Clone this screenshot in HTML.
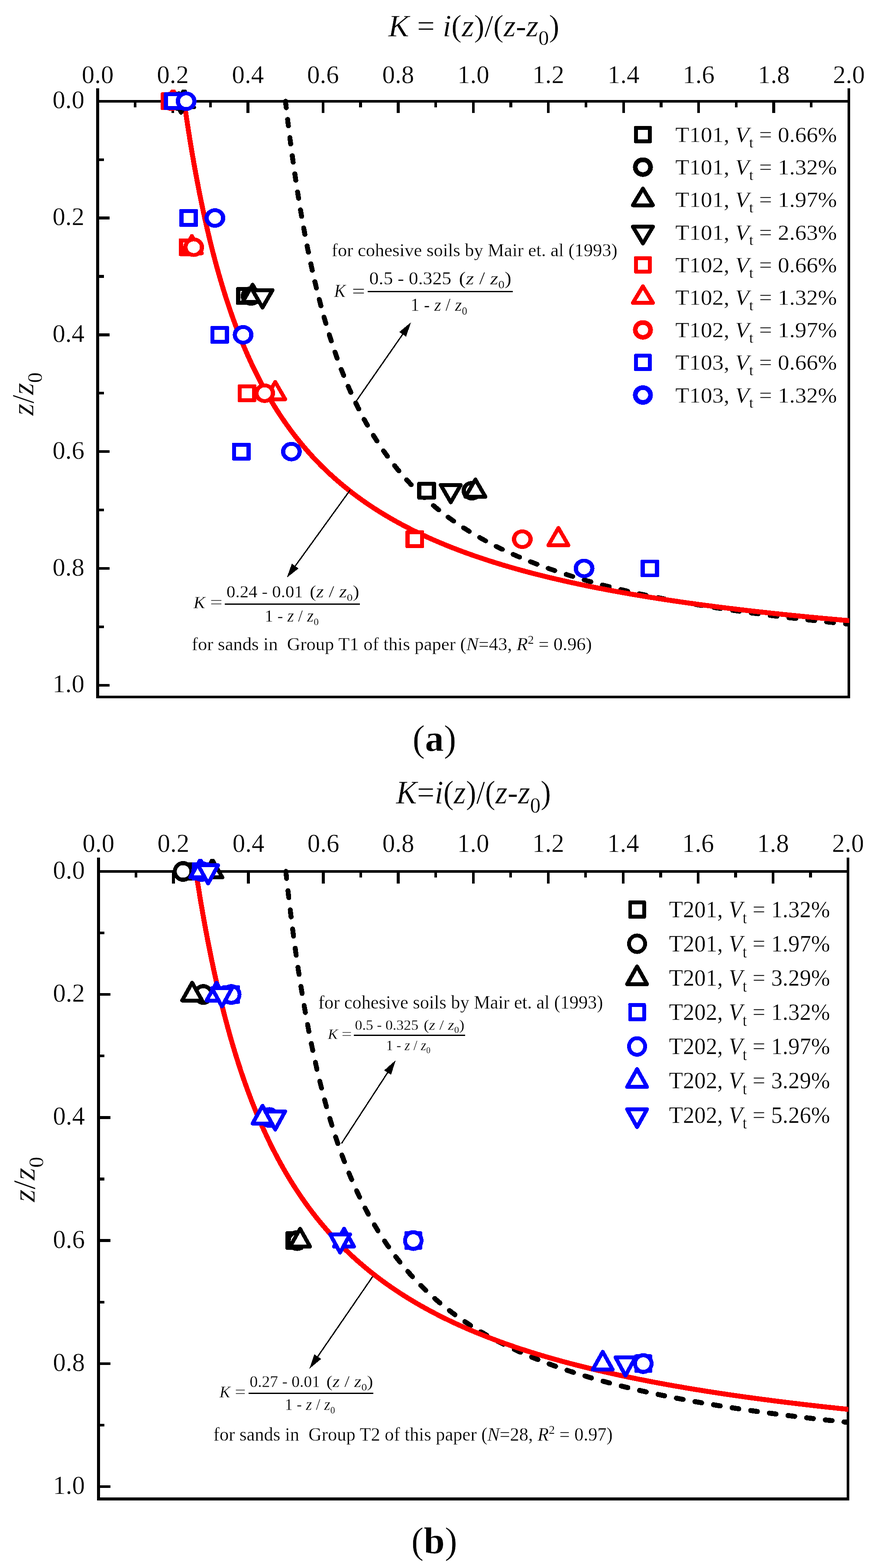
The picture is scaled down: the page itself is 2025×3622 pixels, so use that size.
<!DOCTYPE html>
<html lang="en">
<head>
<meta charset="utf-8">
<title>K versus z/z0</title>
<style>
html,body{margin:0;padding:0;background:#fff;}
body{width:2025px;height:3622px;overflow:hidden;}
svg{display:block;}
text{white-space:pre;stroke:#fff;}
text,tspan{stroke-width:0.0075em;}
</style>
</head>
<body>
<svg width="2025" height="3622" viewBox="0 0 2025 3622">
<rect width="2025" height="3622" fill="#fff"/>
<text transform="translate(896.51 84.2) scale(1.0066 1)" font-family='"Liberation Serif", "DejaVu Serif", serif' font-size="72" fill="#000" xml:space="preserve" ><tspan font-style="italic">K</tspan> = <tspan font-style="italic">i</tspan>(<tspan font-style="italic">z</tspan>)/(<tspan font-style="italic">z</tspan>-<tspan font-style="italic">z</tspan><tspan font-size="48" dy="20">0</tspan><tspan dy="-20">)</tspan></text>
<g font-family='"Liberation Serif", "DejaVu Serif", serif' font-size="59" fill="#000">
<text x="225.6" y="191.5" text-anchor="middle">0.0</text>
<text x="399.04" y="191.5" text-anchor="middle">0.2</text>
<text x="572.48" y="191.5" text-anchor="middle">0.4</text>
<text x="745.92" y="191.5" text-anchor="middle">0.6</text>
<text x="919.36" y="191.5" text-anchor="middle">0.8</text>
<text x="1092.8" y="191.5" text-anchor="middle">1.0</text>
<text x="1266.24" y="191.5" text-anchor="middle">1.2</text>
<text x="1439.68" y="191.5" text-anchor="middle">1.4</text>
<text x="1613.12" y="191.5" text-anchor="middle">1.6</text>
<text x="1786.56" y="191.5" text-anchor="middle">1.8</text>
<text x="1960" y="191.5" text-anchor="middle">2.0</text>
<text x="195" y="250.4" text-anchor="end">0.0</text>
<text x="195" y="520.2" text-anchor="end">0.2</text>
<text x="195" y="790" text-anchor="end">0.4</text>
<text x="195" y="1059.8" text-anchor="end">0.6</text>
<text x="195" y="1329.6" text-anchor="end">0.8</text>
<text x="195" y="1599.4" text-anchor="end">1.0</text>
</g>
<text transform="translate(77 960) rotate(-90) scale(1 1)" font-family='"Liberation Serif", "DejaVu Serif", serif' font-size="71.7" fill="#000"><tspan font-style="italic">z</tspan>/<tspan font-style="italic">z</tspan><tspan font-size="48.04" dy="20.08">0</tspan></text>
<g stroke="#000" stroke-width="6.3" fill="none" shape-rendering="crispEdges">
<path d="M225.6 204 V1610 H1960 V204"/>
<path d="M225.6 233.8 H1960"/>
<path d="M312.32 233.8 v14 M399.04 233.8 v27.5 M485.76 233.8 v14 M572.48 233.8 v27.5 M659.2 233.8 v14 M745.92 233.8 v27.5 M832.64 233.8 v14 M919.36 233.8 v27.5 M1006.08 233.8 v14 M1092.8 233.8 v27.5 M1179.52 233.8 v14 M1266.24 233.8 v27.5 M1352.96 233.8 v14 M1439.68 233.8 v27.5 M1526.4 233.8 v14 M1613.12 233.8 v27.5 M1699.84 233.8 v14 M1786.56 233.8 v27.5 M1873.28 233.8 v14"/>
<path d="M225.6 368.7 h14 M225.6 503.6 h27.5 M225.6 638.5 h14 M225.6 773.4 h27.5 M225.6 908.3 h14 M225.6 1043.2 h27.5 M225.6 1178.1 h14 M225.6 1313 h27.5 M225.6 1447.9 h14 M225.6 1582.8 h27.5"/>
</g>
<clipPath id="clip1"><rect x="205.6" y="184" width="1755.4" height="1426"/></clipPath>
<g clip-path="url(#clip1)"><path transform="translate(225.6 233.8) scale(1.038 1)" d="M417.73 0 L418.05 3.02 L418.38 6.05 L418.72 9.07 L419.05 12.1 L419.38 15.12 L419.72 18.15 L420.06 21.17 L420.4 24.19 L420.74 27.22 L421.08 30.24 L421.42 33.27 L421.77 36.29 L422.12 39.32 L422.46 42.34 L422.81 45.36 L423.17 48.39 L423.52 51.41 L423.87 54.44 L424.23 57.46 L424.59 60.49 L424.95 63.51 L425.31 66.53 L425.68 69.56 L426.04 72.58 L426.41 75.61 L426.78 78.63 L427.15 81.66 L427.52 84.68 L427.89 87.7 L428.27 90.73 L428.65 93.75 L429.03 96.78 L429.41 99.8 L429.79 102.83 L430.18 105.85 L430.56 108.88 L430.95 111.9 L431.34 114.92 L431.73 117.95 L432.13 120.97 L432.53 124 L432.92 127.02 L433.32 130.05 L433.73 133.07 L434.13 136.09 L434.54 139.12 L434.95 142.14 L435.36 145.17 L435.77 148.19 L436.18 151.22 L436.6 154.24 L437.02 157.26 L437.44 160.29 L437.86 163.31 L438.29 166.34 L438.72 169.36 L439.15 172.39 L439.58 175.41 L440.01 178.43 L440.45 181.46 L440.89 184.48 L441.33 187.51 L441.77 190.53 L442.22 193.56 L442.67 196.58 L443.12 199.6 L443.57 202.63 L444.02 205.65 L444.48 208.68 L444.94 211.7 L445.4 214.73 L445.87 217.75 L446.34 220.77 L446.81 223.8 L447.28 226.82 L447.75 229.85 L448.23 232.87 L448.71 235.9 L449.19 238.92 L449.68 241.94 L450.17 244.97 L450.66 247.99 L451.15 251.02 L451.65 254.04 L452.15 257.07 L452.65 260.09 L453.15 263.11 L453.66 266.14 L454.17 269.16 L454.68 272.19 L455.2 275.21 L455.72 278.24 L456.24 281.26 L456.76 284.28 L457.29 287.31 L457.82 290.33 L458.36 293.36 L458.89 296.38 L459.43 299.41 L459.98 302.43 L460.52 305.45 L461.07 308.48 L461.62 311.5 L462.18 314.53 L462.74 317.55 L463.3 320.58 L463.87 323.6 L464.44 326.63 L465.01 329.65 L465.58 332.67 L466.16 335.7 L466.75 338.72 L467.33 341.75 L467.92 344.77 L468.51 347.8 L469.11 350.82 L469.71 353.84 L470.32 356.87 L470.92 359.89 L471.54 362.92 L472.15 365.94 L472.77 368.97 L473.39 371.99 L474.02 375.01 L474.65 378.04 L475.28 381.06 L475.92 384.09 L476.57 387.11 L477.21 390.14 L477.86 393.16 L478.52 396.18 L479.18 399.21 L479.84 402.23 L480.51 405.26 L481.18 408.28 L481.86 411.31 L482.54 414.33 L483.22 417.35 L483.91 420.38 L484.61 423.4 L485.3 426.43 L486.01 429.45 L486.72 432.48 L487.43 435.5 L488.14 438.52 L488.87 441.55 L489.59 444.57 L490.33 447.6 L491.06 450.62 L491.8 453.65 L492.55 456.67 L493.3 459.69 L494.06 462.72 L494.82 465.74 L495.59 468.77 L496.36 471.79 L497.14 474.82 L497.92 477.84 L498.71 480.86 L499.5 483.89 L500.3 486.91 L501.11 489.94 L501.92 492.96 L502.74 495.99 L503.56 499.01 L504.39 502.03 L505.22 505.06 L506.06 508.08 L506.91 511.11 L507.76 514.13 L508.62 517.16 L509.49 520.18 L510.36 523.21 L511.24 526.23 L512.12 529.25 L513.01 532.28 L513.91 535.3 L514.81 538.33 L515.72 541.35 L516.64 544.38 L517.57 547.4 L518.5 550.42 L519.44 553.45 L520.38 556.47 L521.34 559.5 L522.3 562.52 L523.27 565.55 L524.24 568.57 L525.22 571.59 L526.22 574.62 L527.21 577.64 L528.22 580.67 L529.23 583.69 L530.26 586.72 L531.29 589.74 L532.33 592.76 L533.37 595.79 L534.43 598.81 L535.49 601.84 L536.57 604.86 L537.65 607.89 L538.74 610.91 L539.84 613.93 L540.95 616.96 L542.06 619.98 L543.19 623.01 L544.33 626.03 L545.47 629.06 L546.63 632.08 L547.79 635.1 L548.97 638.13 L550.16 641.15 L551.35 644.18 L552.56 647.2 L553.77 650.23 L555 653.25 L556.24 656.27 L557.49 659.3 L558.75 662.32 L560.02 665.35 L561.3 668.37 L562.59 671.4 L563.9 674.42 L565.21 677.44 L566.54 680.47 L567.88 683.49 L569.24 686.52 L570.6 689.54 L571.98 692.57 L573.37 695.59 L574.77 698.61 L576.19 701.64 L577.62 704.66 L579.06 707.69 L580.52 710.71 L581.99 713.74 L583.48 716.76 L584.98 719.79 L586.49 722.81 L588.02 725.83 L589.56 728.86 L591.12 731.88 L592.69 734.91 L594.28 737.93 L595.89 740.96 L597.51 743.98 L599.15 747 L600.8 750.03 L602.47 753.05 L604.16 756.08 L605.87 759.1 L607.59 762.13 L609.33 765.15 L611.09 768.17 L612.87 771.2 L614.66 774.22 L616.48 777.25 L618.31 780.27 L620.17 783.3 L622.04 786.32 L623.93 789.34 L625.85 792.37 L627.78 795.39 L629.74 798.42 L631.72 801.44 L633.72 804.47 L635.74 807.49 L637.79 810.51 L639.86 813.54 L641.95 816.56 L644.07 819.59 L646.21 822.61 L648.37 825.64 L650.56 828.66 L652.78 831.68 L655.02 834.71 L657.29 837.73 L659.58 840.76 L661.91 843.78 L664.26 846.81 L666.64 849.83 L669.05 852.85 L671.48 855.88 L673.95 858.9 L676.45 861.93 L678.98 864.95 L681.54 867.98 L684.14 871 L686.76 874.02 L689.42 877.05 L692.12 880.07 L694.85 883.1 L697.62 886.12 L700.42 889.15 L703.26 892.17 L706.13 895.19 L709.05 898.22 L712.01 901.24 L715 904.27 L718.04 907.29 L721.12 910.32 L724.24 913.34 L727.4 916.36 L730.61 919.39 L733.87 922.41 L737.17 925.44 L740.52 928.46 L743.91 931.49 L747.36 934.51 L750.86 937.54 L754.41 940.56 L758.01 943.58 L761.66 946.61 L765.38 949.63 L769.15 952.66 L772.97 955.68 L776.86 958.71 L780.8 961.73 L784.81 964.75 L788.88 967.78 L793.02 970.8 L797.22 973.83 L801.5 976.85 L805.84 979.88 L810.25 982.9 L814.74 985.92 L819.3 988.95 L823.94 991.97 L828.66 995 L833.46 998.02 L838.35 1001.05 L843.32 1004.07 L848.38 1007.09 L853.52 1010.12 L858.76 1013.14 L864.1 1016.17 L869.53 1019.19 L875.07 1022.22 L880.71 1025.24 L886.45 1028.26 L892.3 1031.29 L898.27 1034.31 L904.35 1037.34 L910.55 1040.36 L916.88 1043.39 L923.33 1046.41 L929.91 1049.43 L936.62 1052.46 L943.47 1055.48 L950.47 1058.51 L957.61 1061.53 L964.91 1064.56 L972.36 1067.58 L979.97 1070.6 L987.75 1073.63 L995.71 1076.65 L1003.84 1079.68 L1012.16 1082.7 L1020.66 1085.73 L1029.37 1088.75 L1038.28 1091.77 L1047.4 1094.8 L1056.74 1097.82 L1066.31 1100.85 L1076.12 1103.87 L1086.17 1106.9 L1096.48 1109.92 L1107.05 1112.94 L1117.89 1115.97 L1129.02 1118.99 L1140.44 1122.02 L1152.18 1125.04 L1164.23 1128.07 L1176.62 1131.09 L1189.36 1134.12 L1202.46 1137.14 L1215.94 1140.16 L1229.82 1143.19 L1244.11 1146.21 L1258.84 1149.24 L1274.01 1152.26 L1289.67 1155.29 L1305.81 1158.31 L1322.48 1161.33 L1339.7 1164.36 L1357.48 1167.38 L1375.87 1170.41 L1394.9 1173.43 L1414.59 1176.46 L1434.98 1179.48 L1456.11 1182.5 L1478.03 1185.53 L1500.77 1188.55 L1524.38 1191.58 L1548.93 1194.6 L1574.45 1197.63 L1601.01 1200.65 L1628.68 1203.67 L1657.52 1206.7 L1687.61 1209.72" fill="none" stroke="#000" stroke-width="11" stroke-linejoin="round" stroke-dasharray="15.4 26.8" stroke-linecap="round" stroke-dashoffset="0" shape-rendering="crispEdges"/></g>
<clipPath id="clip2"><rect x="205.6" y="184" width="1755.4" height="1426"/></clipPath>
<g clip-path="url(#clip2)"><path transform="translate(225.6 233.8) scale(1 1)" d="M199.46 0 L199.88 3 L200.31 6.01 L200.74 9.01 L201.17 12.01 L201.6 15.02 L202.04 18.02 L202.48 21.02 L202.92 24.03 L203.36 27.03 L203.8 30.03 L204.25 33.04 L204.69 36.04 L205.14 39.04 L205.59 42.05 L206.05 45.05 L206.5 48.05 L206.96 51.06 L207.42 54.06 L207.88 57.06 L208.35 60.07 L208.81 63.07 L209.28 66.07 L209.75 69.08 L210.23 72.08 L210.7 75.08 L211.18 78.09 L211.66 81.09 L212.14 84.09 L212.62 87.1 L213.11 90.1 L213.6 93.1 L214.09 96.11 L214.58 99.11 L215.08 102.11 L215.58 105.12 L216.08 108.12 L216.58 111.12 L217.09 114.13 L217.6 117.13 L218.11 120.13 L218.62 123.14 L219.14 126.14 L219.65 129.14 L220.17 132.15 L220.7 135.15 L221.22 138.16 L221.75 141.16 L222.28 144.16 L222.82 147.17 L223.35 150.17 L223.89 153.17 L224.44 156.18 L224.98 159.18 L225.53 162.18 L226.08 165.19 L226.63 168.19 L227.19 171.19 L227.74 174.2 L228.31 177.2 L228.87 180.2 L229.44 183.21 L230.01 186.21 L230.58 189.21 L231.16 192.22 L231.74 195.22 L232.32 198.22 L232.9 201.23 L233.49 204.23 L234.08 207.23 L234.68 210.24 L235.28 213.24 L235.88 216.24 L236.48 219.25 L237.09 222.25 L237.7 225.25 L238.31 228.26 L238.93 231.26 L239.55 234.26 L240.17 237.27 L240.8 240.27 L241.43 243.27 L242.06 246.28 L242.7 249.28 L243.34 252.28 L243.99 255.29 L244.64 258.29 L245.29 261.29 L245.94 264.3 L246.6 267.3 L247.26 270.3 L247.93 273.31 L248.6 276.31 L249.27 279.31 L249.95 282.32 L250.63 285.32 L251.32 288.32 L252.01 291.33 L252.7 294.33 L253.4 297.33 L254.1 300.34 L254.8 303.34 L255.51 306.34 L256.22 309.35 L256.94 312.35 L257.66 315.35 L258.39 318.36 L259.12 321.36 L259.85 324.36 L260.59 327.37 L261.33 330.37 L262.08 333.37 L262.83 336.38 L263.59 339.38 L264.35 342.38 L265.11 345.39 L265.88 348.39 L266.66 351.39 L267.44 354.4 L268.22 357.4 L269.01 360.4 L269.8 363.41 L270.6 366.41 L271.4 369.41 L272.21 372.42 L273.02 375.42 L273.84 378.42 L274.67 381.43 L275.49 384.43 L276.33 387.43 L277.17 390.44 L278.01 393.44 L278.86 396.44 L279.71 399.45 L280.57 402.45 L281.44 405.46 L282.31 408.46 L283.19 411.46 L284.07 414.47 L284.96 417.47 L285.85 420.47 L286.75 423.48 L287.65 426.48 L288.57 429.48 L289.48 432.49 L290.41 435.49 L291.34 438.49 L292.27 441.5 L293.21 444.5 L294.16 447.5 L295.12 450.51 L296.08 453.51 L297.04 456.51 L298.02 459.52 L299 462.52 L299.98 465.52 L300.98 468.53 L301.98 471.53 L302.99 474.53 L304 477.54 L305.02 480.54 L306.05 483.54 L307.09 486.55 L308.13 489.55 L309.18 492.55 L310.24 495.56 L311.3 498.56 L312.37 501.56 L313.45 504.57 L314.54 507.57 L315.64 510.57 L316.74 513.58 L317.85 516.58 L318.97 519.58 L320.1 522.59 L321.24 525.59 L322.38 528.59 L323.53 531.6 L324.69 534.6 L325.86 537.6 L327.04 540.61 L328.23 543.61 L329.42 546.61 L330.63 549.62 L331.84 552.62 L333.07 555.62 L334.3 558.63 L335.54 561.63 L336.79 564.63 L338.05 567.64 L339.33 570.64 L340.61 573.64 L341.9 576.65 L343.2 579.65 L344.51 582.65 L345.83 585.66 L347.16 588.66 L348.5 591.66 L349.86 594.67 L351.22 597.67 L352.6 600.67 L353.98 603.68 L355.38 606.68 L356.79 609.68 L358.21 612.69 L359.64 615.69 L361.08 618.69 L362.54 621.7 L364.01 624.7 L365.48 627.7 L366.98 630.71 L368.48 633.71 L370 636.71 L371.53 639.72 L373.07 642.72 L374.63 645.72 L376.2 648.73 L377.78 651.73 L379.38 654.73 L380.99 657.74 L382.61 660.74 L384.25 663.74 L385.9 666.75 L387.57 669.75 L389.26 672.76 L390.95 675.76 L392.67 678.76 L394.39 681.77 L396.14 684.77 L397.9 687.77 L399.67 690.78 L401.47 693.78 L403.28 696.78 L405.1 699.79 L406.94 702.79 L408.8 705.79 L410.68 708.8 L412.58 711.8 L414.49 714.8 L416.42 717.81 L418.37 720.81 L420.34 723.81 L422.32 726.82 L424.33 729.82 L426.36 732.82 L428.4 735.83 L430.47 738.83 L432.55 741.83 L434.66 744.84 L436.79 747.84 L438.94 750.84 L441.11 753.85 L443.3 756.85 L445.52 759.85 L447.76 762.86 L450.02 765.86 L452.3 768.86 L454.61 771.87 L456.95 774.87 L459.3 777.87 L461.69 780.88 L464.09 783.88 L466.53 786.88 L468.99 789.89 L471.47 792.89 L473.98 795.89 L476.53 798.9 L479.09 801.9 L481.69 804.9 L484.32 807.91 L486.97 810.91 L489.66 813.91 L492.37 816.92 L495.12 819.92 L497.89 822.92 L500.7 825.93 L503.54 828.93 L506.42 831.93 L509.33 834.94 L512.27 837.94 L515.25 840.94 L518.26 843.95 L521.31 846.95 L524.39 849.95 L527.51 852.96 L530.67 855.96 L533.87 858.96 L537.11 861.97 L540.39 864.97 L543.71 867.97 L547.07 870.98 L550.48 873.98 L553.92 876.98 L557.42 879.99 L560.95 882.99 L564.53 885.99 L568.16 889 L571.84 892 L575.57 895 L579.34 898.01 L583.17 901.01 L587.05 904.01 L590.98 907.02 L594.96 910.02 L599 913.02 L603.09 916.03 L607.25 919.03 L611.46 922.03 L615.73 925.04 L620.06 928.04 L624.45 931.04 L628.91 934.05 L633.43 937.05 L638.02 940.06 L642.67 943.06 L647.4 946.06 L652.2 949.07 L657.07 952.07 L662.01 955.07 L667.03 958.08 L672.13 961.08 L677.3 964.08 L682.56 967.09 L687.9 970.09 L693.33 973.09 L698.84 976.1 L704.45 979.1 L710.14 982.1 L715.93 985.11 L721.82 988.11 L727.8 991.11 L733.89 994.12 L740.08 997.12 L746.37 1000.12 L752.78 1003.13 L759.3 1006.13 L765.93 1009.13 L772.68 1012.14 L779.56 1015.14 L786.55 1018.14 L793.68 1021.15 L800.94 1024.15 L808.33 1027.15 L815.86 1030.16 L823.54 1033.16 L831.36 1036.16 L839.34 1039.17 L847.47 1042.17 L855.76 1045.17 L864.22 1048.18 L872.84 1051.18 L881.65 1054.18 L890.63 1057.19 L899.8 1060.19 L909.17 1063.19 L918.73 1066.2 L928.5 1069.2 L938.48 1072.2 L948.68 1075.21 L959.1 1078.21 L969.76 1081.21 L980.67 1084.22 L991.82 1087.22 L1003.23 1090.22 L1014.91 1093.23 L1026.86 1096.23 L1039.11 1099.23 L1051.65 1102.24 L1064.5 1105.24 L1077.67 1108.24 L1091.17 1111.25 L1105.02 1114.25 L1119.23 1117.25 L1133.81 1120.26 L1148.78 1123.26 L1164.15 1126.26 L1179.95 1129.27 L1196.18 1132.27 L1212.87 1135.27 L1230.03 1138.28 L1247.69 1141.28 L1265.87 1144.28 L1284.59 1147.29 L1303.87 1150.29 L1323.75 1153.29 L1344.24 1156.3 L1365.39 1159.3 L1387.21 1162.3 L1409.75 1165.31 L1433.04 1168.31 L1457.12 1171.31 L1482.02 1174.32 L1507.8 1177.32 L1534.49 1180.32 L1562.15 1183.33 L1590.83 1186.33 L1620.59 1189.33 L1651.49 1192.34 L1683.6 1195.34 L1717 1198.34 L1751.74 1201.35" fill="none" stroke="#ff0000" stroke-width="11.5" stroke-linejoin="round" shape-rendering="crispEdges"/></g>
<clipPath id="clip3"><rect x="100" y="207" width="1925" height="1493"/></clipPath>
<g fill="#fff" stroke-width="9" stroke-linejoin="round" shape-rendering="crispEdges" clip-path="url(#clip3)">
<rect x="390.4" y="213.35" width="43.3" height="40.9" rx="3.2" fill="#000" stroke="none"/><rect x="400.3" y="222.25" width="23.5" height="23.1" fill="#fff" stroke="none"/>
<ellipse cx="412.92" cy="233.8" rx="24.05" ry="22.5" fill="#000" stroke="none"/><ellipse cx="412.92" cy="233.8" rx="14.1" ry="13.6" fill="#fff" stroke="none"/>
<path d="M425.06 207.8 L448.16 247.8 L401.96 247.8 Z" stroke="#000"/>
<path d="M418.12 260.5 L441.22 220.4 L395.02 220.4 Z" stroke="#000"/>
<rect x="371.06" y="213.35" width="43.3" height="40.9" rx="3.2" fill="#ff0000" stroke="none"/><rect x="380.96" y="222.25" width="23.5" height="23.1" fill="#fff" stroke="none"/>
<path d="M399.56 207.8 L422.66 247.8 L376.46 247.8 Z" stroke="#ff0000"/>
<ellipse cx="396.26" cy="233.8" rx="24.05" ry="22.5" fill="#ff0000" stroke="none"/><ellipse cx="396.26" cy="233.8" rx="14.1" ry="13.6" fill="#fff" stroke="none"/>
<rect x="378.17" y="213.35" width="43.3" height="40.9" rx="3.2" fill="#0000ff" stroke="none"/><rect x="388.07" y="222.25" width="23.5" height="23.1" fill="#fff" stroke="none"/>
<ellipse cx="429.74" cy="233.8" rx="24.05" ry="22.5" fill="#0000ff" stroke="none"/><ellipse cx="429.74" cy="233.8" rx="14.1" ry="13.6" fill="#fff" stroke="none"/>
<rect x="413.73" y="483.15" width="43.3" height="40.9" rx="3.2" fill="#0000ff" stroke="none"/><rect x="423.63" y="492.05" width="23.5" height="23.1" fill="#fff" stroke="none"/>
<ellipse cx="496.17" cy="503.6" rx="24.05" ry="22.5" fill="#0000ff" stroke="none"/><ellipse cx="496.17" cy="503.6" rx="14.1" ry="13.6" fill="#fff" stroke="none"/>
<rect x="412.69" y="550.6" width="43.3" height="40.9" rx="3.2" fill="#ff0000" stroke="none"/><rect x="422.59" y="559.5" width="23.5" height="23.1" fill="#fff" stroke="none"/>
<path d="M443.01 545.05 L466.11 585.05 L419.91 585.05 Z" stroke="#ff0000"/>
<ellipse cx="447.26" cy="571.05" rx="24.05" ry="22.5" fill="#ff0000" stroke="none"/><ellipse cx="447.26" cy="571.05" rx="14.1" ry="13.6" fill="#fff" stroke="none"/>
<rect x="545.11" y="663.24" width="43.3" height="40.9" rx="3.2" fill="#000" stroke="none"/><rect x="555.01" y="672.14" width="23.5" height="23.1" fill="#fff" stroke="none"/>
<ellipse cx="579.85" cy="683.69" rx="24.05" ry="22.5" fill="#000" stroke="none"/><ellipse cx="579.85" cy="683.69" rx="14.1" ry="13.6" fill="#fff" stroke="none"/>
<path d="M583.32 657.69 L606.42 697.69 L560.22 697.69 Z" stroke="#000"/>
<path d="M606.13 710.39 L629.23 670.29 L583.03 670.29 Z" stroke="#000"/>
<rect x="485.53" y="752.95" width="43.3" height="40.9" rx="3.2" fill="#0000ff" stroke="none"/><rect x="495.43" y="761.85" width="23.5" height="23.1" fill="#fff" stroke="none"/>
<ellipse cx="561.38" cy="773.4" rx="24.05" ry="22.5" fill="#0000ff" stroke="none"/><ellipse cx="561.38" cy="773.4" rx="14.1" ry="13.6" fill="#fff" stroke="none"/>
<rect x="548.58" y="887.85" width="43.3" height="40.9" rx="3.2" fill="#ff0000" stroke="none"/><rect x="558.48" y="896.75" width="23.5" height="23.1" fill="#fff" stroke="none"/>
<path d="M635.53 882.3 L658.63 922.3 L612.43 922.3 Z" stroke="#ff0000"/>
<ellipse cx="611.07" cy="908.3" rx="24.05" ry="22.5" fill="#ff0000" stroke="none"/><ellipse cx="611.07" cy="908.3" rx="14.1" ry="13.6" fill="#fff" stroke="none"/>
<rect x="535.57" y="1022.75" width="43.3" height="40.9" rx="3.2" fill="#0000ff" stroke="none"/><rect x="545.47" y="1031.65" width="23.5" height="23.1" fill="#fff" stroke="none"/>
<ellipse cx="672.82" cy="1043.2" rx="24.05" ry="22.5" fill="#0000ff" stroke="none"/><ellipse cx="672.82" cy="1043.2" rx="14.1" ry="13.6" fill="#fff" stroke="none"/>
<rect x="963.44" y="1113.13" width="43.3" height="40.9" rx="3.2" fill="#000" stroke="none"/><rect x="973.34" y="1122.03" width="23.5" height="23.1" fill="#fff" stroke="none"/>
<ellipse cx="1089.68" cy="1133.58" rx="24.05" ry="22.5" fill="#000" stroke="none"/><ellipse cx="1089.68" cy="1133.58" rx="14.1" ry="13.6" fill="#fff" stroke="none"/>
<path d="M1097.74 1107.58 L1120.84 1147.58 L1074.64 1147.58 Z" stroke="#000"/>
<path d="M1040.77 1160.28 L1063.87 1120.18 L1017.67 1120.18 Z" stroke="#000"/>
<rect x="936.13" y="1225.1" width="43.3" height="40.9" rx="3.2" fill="#ff0000" stroke="none"/><rect x="946.03" y="1234" width="23.5" height="23.1" fill="#fff" stroke="none"/>
<path d="M1289.39 1219.55 L1312.49 1259.55 L1266.29 1259.55 Z" stroke="#ff0000"/>
<ellipse cx="1205.97" cy="1245.55" rx="24.05" ry="22.5" fill="#ff0000" stroke="none"/><ellipse cx="1205.97" cy="1245.55" rx="14.1" ry="13.6" fill="#fff" stroke="none"/>
<rect x="1478.91" y="1292.55" width="43.3" height="40.9" rx="3.2" fill="#0000ff" stroke="none"/><rect x="1488.81" y="1301.45" width="23.5" height="23.1" fill="#fff" stroke="none"/>
<ellipse cx="1348.62" cy="1313" rx="24.05" ry="22.5" fill="#0000ff" stroke="none"/><ellipse cx="1348.62" cy="1313" rx="14.1" ry="13.6" fill="#fff" stroke="none"/>
</g>
<text transform="translate(1559.17 327.9) scale(1.0323 1)" font-family='"Liberation Serif", "DejaVu Serif", serif' font-size="51.3" fill="#000" xml:space="preserve" >T101, <tspan font-style="italic">V</tspan><tspan font-size="34.37" dy="12.82">t</tspan><tspan dy="-12.82"> = 0.66%</tspan></text>
<text transform="translate(1559.17 403.1) scale(1.0323 1)" font-family='"Liberation Serif", "DejaVu Serif", serif' font-size="51.3" fill="#000" xml:space="preserve" >T101, <tspan font-style="italic">V</tspan><tspan font-size="34.37" dy="12.82">t</tspan><tspan dy="-12.82"> = 1.32%</tspan></text>
<text transform="translate(1559.17 478.3) scale(1.0323 1)" font-family='"Liberation Serif", "DejaVu Serif", serif' font-size="51.3" fill="#000" xml:space="preserve" >T101, <tspan font-style="italic">V</tspan><tspan font-size="34.37" dy="12.82">t</tspan><tspan dy="-12.82"> = 1.97%</tspan></text>
<text transform="translate(1559.17 553.5) scale(1.0323 1)" font-family='"Liberation Serif", "DejaVu Serif", serif' font-size="51.3" fill="#000" xml:space="preserve" >T101, <tspan font-style="italic">V</tspan><tspan font-size="34.37" dy="12.82">t</tspan><tspan dy="-12.82"> = 2.63%</tspan></text>
<text transform="translate(1559.17 628.7) scale(1.0323 1)" font-family='"Liberation Serif", "DejaVu Serif", serif' font-size="51.3" fill="#000" xml:space="preserve" >T102, <tspan font-style="italic">V</tspan><tspan font-size="34.37" dy="12.82">t</tspan><tspan dy="-12.82"> = 0.66%</tspan></text>
<text transform="translate(1559.17 703.9) scale(1.0323 1)" font-family='"Liberation Serif", "DejaVu Serif", serif' font-size="51.3" fill="#000" xml:space="preserve" >T102, <tspan font-style="italic">V</tspan><tspan font-size="34.37" dy="12.82">t</tspan><tspan dy="-12.82"> = 1.32%</tspan></text>
<text transform="translate(1559.17 779.1) scale(1.0323 1)" font-family='"Liberation Serif", "DejaVu Serif", serif' font-size="51.3" fill="#000" xml:space="preserve" >T102, <tspan font-style="italic">V</tspan><tspan font-size="34.37" dy="12.82">t</tspan><tspan dy="-12.82"> = 1.97%</tspan></text>
<text transform="translate(1559.17 854.3) scale(1.0323 1)" font-family='"Liberation Serif", "DejaVu Serif", serif' font-size="51.3" fill="#000" xml:space="preserve" >T103, <tspan font-style="italic">V</tspan><tspan font-size="34.37" dy="12.82">t</tspan><tspan dy="-12.82"> = 0.66%</tspan></text>
<text transform="translate(1559.17 929.5) scale(1.0323 1)" font-family='"Liberation Serif", "DejaVu Serif", serif' font-size="51.3" fill="#000" xml:space="preserve" >T103, <tspan font-style="italic">V</tspan><tspan font-size="34.37" dy="12.82">t</tspan><tspan dy="-12.82"> = 1.32%</tspan></text>
<g fill="#fff" stroke-width="9" stroke-linejoin="round" shape-rendering="crispEdges">
<rect x="1463.95" y="290.95" width="41.1" height="39.9" rx="3.2" fill="#000" stroke="none"/><rect x="1472.95" y="299.8" width="23.1" height="22.2" fill="#fff" stroke="none"/>
<ellipse cx="1484.5" cy="386.1" rx="23.1" ry="22.55" fill="#000" stroke="none"/><ellipse cx="1484.5" cy="386.1" rx="12.15" ry="11.65" fill="#fff" stroke="none"/>
<path d="M1484.5 435.7 L1507.7 474.1 L1461.3 474.1 Z" stroke="#000"/>
<path d="M1484.5 562.4 L1507.7 523.7 L1461.3 523.7 Z" stroke="#000"/>
<rect x="1463.95" y="591.75" width="41.1" height="39.9" rx="3.2" fill="#ff0000" stroke="none"/><rect x="1472.95" y="600.6" width="23.1" height="22.2" fill="#fff" stroke="none"/>
<path d="M1484.5 661.3 L1507.7 699.7 L1461.3 699.7 Z" stroke="#ff0000"/>
<ellipse cx="1484.5" cy="762.1" rx="23.1" ry="22.55" fill="#ff0000" stroke="none"/><ellipse cx="1484.5" cy="762.1" rx="12.15" ry="11.65" fill="#fff" stroke="none"/>
<rect x="1463.95" y="817.35" width="41.1" height="39.9" rx="3.2" fill="#0000ff" stroke="none"/><rect x="1472.95" y="826.2" width="23.1" height="22.2" fill="#fff" stroke="none"/>
<ellipse cx="1484.5" cy="912.5" rx="23.1" ry="22.55" fill="#0000ff" stroke="none"/><ellipse cx="1484.5" cy="912.5" rx="12.15" ry="11.65" fill="#fff" stroke="none"/>
</g>
<g shape-rendering="crispEdges"><line x1="822.5" y1="926.6" x2="930.94" y2="770.58" stroke="#000" stroke-width="3"/>
<polygon points="949.2,744.3 937.6,777.64 921.99,766.8" fill="#000"/></g>
<g shape-rendering="crispEdges"><line x1="808.4" y1="1132.1" x2="680.46" y2="1309.17" stroke="#000" stroke-width="3"/>
<polygon points="662.3,1334.3 673.93,1301.99 689.33,1313.12" fill="#000"/></g>
<text transform="translate(765.87 592.1) scale(1.0272 1)" font-family='"Liberation Serif", "DejaVu Serif", serif' font-size="41.3" fill="#000" xml:space="preserve" >for cohesive soils by Mair et. al (1993)</text>
<text transform="translate(771.6 685.9) scale(0.9567 1)" font-family='"Liberation Serif", "DejaVu Serif", serif' font-size="41.7" fill="#000" xml:space="preserve" ><tspan font-style="italic">K</tspan></text>
<text transform="translate(812.4 685.9) scale(1.3 1)" font-family='"Liberation Serif", "DejaVu Serif", serif' font-size="41.7" fill="#000" xml:space="preserve" >=</text>
<text transform="translate(852.6 657.2) scale(1.0497 1)" font-family='"Liberation Serif", "DejaVu Serif", serif' font-size="41.7" fill="#000" xml:space="preserve" >0.5 - 0.325</text>
<text transform="translate(1059.59 657.2) scale(1.1554 1)" font-family='"Liberation Serif", "DejaVu Serif", serif' font-size="41.7" fill="#000" xml:space="preserve" >(<tspan font-style="italic">z</tspan> / <tspan font-style="italic">z</tspan><tspan font-size="25.02" dy="8.34">0</tspan><tspan dy="-8.34">)</tspan></text>
<text transform="translate(947.97 718.3) scale(0.9836 1)" font-family='"Liberation Serif", "DejaVu Serif", serif' font-size="41.7" fill="#000" xml:space="preserve" >1 - <tspan font-style="italic">z</tspan> / <tspan font-style="italic">z</tspan><tspan font-size="25.02" dy="8.34">0</tspan></text>
<rect x="849" y="672" width="335" height="3" fill="#000" shape-rendering="crispEdges"/>
<text transform="translate(446.8 1405.1) scale(1.0357 1)" font-family='"Liberation Serif", "DejaVu Serif", serif' font-size="39.3" fill="#000" xml:space="preserve" ><tspan font-style="italic">K</tspan></text>
<text transform="translate(484.78 1405.1) scale(1.3111 1)" font-family='"Liberation Serif", "DejaVu Serif", serif' font-size="39.3" fill="#000" xml:space="preserve" >=</text>
<text transform="translate(523.06 1380.3) scale(1.0377 1)" font-family='"Liberation Serif", "DejaVu Serif", serif' font-size="39.3" fill="#000" xml:space="preserve" >0.24 - 0.01</text>
<text transform="translate(714.88 1380.3) scale(1.1579 1)" font-family='"Liberation Serif", "DejaVu Serif", serif' font-size="39.3" fill="#000" xml:space="preserve" >(<tspan font-style="italic">z</tspan> / <tspan font-style="italic">z</tspan><tspan font-size="23.58" dy="7.86">0</tspan><tspan dy="-7.86">)</tspan></text>
<text transform="translate(611.32 1436.3) scale(0.9942 1)" font-family='"Liberation Serif", "DejaVu Serif", serif' font-size="39.3" fill="#000" xml:space="preserve" >1 - <tspan font-style="italic">z</tspan> / <tspan font-style="italic">z</tspan><tspan font-size="23.58" dy="7.86">0</tspan></text>
<rect x="519" y="1394" width="312" height="3" fill="#000" shape-rendering="crispEdges"/>
<text transform="translate(442.87 1502.1) scale(1.0306 1)" font-family='"Liberation Serif", "DejaVu Serif", serif' font-size="41.3" fill="#000" xml:space="preserve" >for sands in  Group T1 of this paper (<tspan font-style="italic">N</tspan>=43, <tspan font-style="italic">R</tspan><tspan font-size="27" dy="-15">2</tspan><tspan dy="15"> = 0.96)</tspan></text>
<text x="1003" y="1734.5" text-anchor="middle" font-family='"Liberation Serif", "DejaVu Serif", serif' font-size="87" fill="#000">(<tspan font-weight="bold">a</tspan>)</text>
<text transform="translate(914.6 1856) scale(1.0028 1.05)" font-family='"Liberation Serif", "DejaVu Serif", serif' font-size="72" fill="#000" xml:space="preserve" ><tspan font-style="italic">K</tspan>=<tspan font-style="italic">i</tspan>(<tspan font-style="italic">z</tspan>)/(<tspan font-style="italic">z</tspan>-<tspan font-style="italic">z</tspan><tspan font-size="48" dy="20">0</tspan><tspan dy="-20">)</tspan></text>
<g font-family='"Liberation Serif", "DejaVu Serif", serif' font-size="59" fill="#000">
<text transform="translate(227.4 1968.3) scale(1 1.05)" text-anchor="middle">0.0</text>
<text transform="translate(400.46 1968.3) scale(1 1.05)" text-anchor="middle">0.2</text>
<text transform="translate(573.52 1968.3) scale(1 1.05)" text-anchor="middle">0.4</text>
<text transform="translate(746.58 1968.3) scale(1 1.05)" text-anchor="middle">0.6</text>
<text transform="translate(919.64 1968.3) scale(1 1.05)" text-anchor="middle">0.8</text>
<text transform="translate(1092.7 1968.3) scale(1 1.05)" text-anchor="middle">1.0</text>
<text transform="translate(1265.76 1968.3) scale(1 1.05)" text-anchor="middle">1.2</text>
<text transform="translate(1438.82 1968.3) scale(1 1.05)" text-anchor="middle">1.4</text>
<text transform="translate(1611.88 1968.3) scale(1 1.05)" text-anchor="middle">1.6</text>
<text transform="translate(1784.94 1968.3) scale(1 1.05)" text-anchor="middle">1.8</text>
<text transform="translate(1958 1968.3) scale(1 1.05)" text-anchor="middle">2.0</text>
<text transform="translate(196 2030) scale(1 1.05)" text-anchor="end">0.0</text>
<text transform="translate(196 2314.2) scale(1 1.05)" text-anchor="end">0.2</text>
<text transform="translate(196 2598.4) scale(1 1.05)" text-anchor="end">0.4</text>
<text transform="translate(196 2882.6) scale(1 1.05)" text-anchor="end">0.6</text>
<text transform="translate(196 3166.8) scale(1 1.05)" text-anchor="end">0.8</text>
<text transform="translate(196 3451) scale(1 1.05)" text-anchor="end">1.0</text>
</g>
<text transform="translate(80 2776.7) rotate(-90) scale(1.05 1)" font-family='"Liberation Serif", "DejaVu Serif", serif' font-size="71.7" fill="#000"><tspan font-style="italic">z</tspan>/<tspan font-style="italic">z</tspan><tspan font-size="48.04" dy="20.08">0</tspan></text>
<g stroke="#000" stroke-width="6.3" fill="none" shape-rendering="crispEdges">
<path d="M227.4 1981 V3462.4 H1958 V1981"/>
<path d="M227.4 2013 H1958"/>
<path d="M313.93 2013 v14 M400.46 2013 v27.5 M486.99 2013 v14 M573.52 2013 v27.5 M660.05 2013 v14 M746.58 2013 v27.5 M833.11 2013 v14 M919.64 2013 v27.5 M1006.17 2013 v14 M1092.7 2013 v27.5 M1179.23 2013 v14 M1265.76 2013 v27.5 M1352.29 2013 v14 M1438.82 2013 v27.5 M1525.35 2013 v14 M1611.88 2013 v27.5 M1698.41 2013 v14 M1784.94 2013 v27.5 M1871.47 2013 v14"/>
<path d="M227.4 2155.1 h14 M227.4 2297.2 h27.5 M227.4 2439.3 h14 M227.4 2581.4 h27.5 M227.4 2723.5 h14 M227.4 2865.6 h27.5 M227.4 3007.7 h14 M227.4 3149.8 h27.5 M227.4 3291.9 h14 M227.4 3434 h27.5"/>
</g>
<clipPath id="clip4"><rect x="207.4" y="1961" width="1751.6" height="1501.4"/></clipPath>
<g clip-path="url(#clip4)"><path transform="translate(227.4 2013) scale(1.029 1.059)" d="M420.46 0 L420.79 3.01 L421.12 6.02 L421.45 9.02 L421.79 12.03 L422.13 15.04 L422.46 18.05 L422.8 21.06 L423.14 24.07 L423.49 27.07 L423.83 30.08 L424.18 33.09 L424.53 36.1 L424.87 39.11 L425.23 42.12 L425.58 45.12 L425.93 48.13 L426.29 51.14 L426.64 54.15 L427 57.16 L427.36 60.16 L427.73 63.17 L428.09 66.18 L428.46 69.19 L428.82 72.2 L429.19 75.21 L429.57 78.21 L429.94 81.22 L430.31 84.23 L430.69 87.24 L431.07 90.25 L431.45 93.26 L431.83 96.26 L432.21 99.27 L432.6 102.28 L432.99 105.29 L433.38 108.3 L433.77 111.3 L434.16 114.31 L434.56 117.32 L434.95 120.33 L435.35 123.34 L435.75 126.35 L436.16 129.35 L436.56 132.36 L436.97 135.37 L437.38 138.38 L437.79 141.39 L438.2 144.4 L438.62 147.4 L439.04 150.41 L439.45 153.42 L439.88 156.43 L440.3 159.44 L440.73 162.44 L441.15 165.45 L441.58 168.46 L442.02 171.47 L442.45 174.48 L442.89 177.49 L443.33 180.49 L443.77 183.5 L444.21 186.51 L444.66 189.52 L445.11 192.53 L445.56 195.54 L446.01 198.54 L446.47 201.55 L446.93 204.56 L447.39 207.57 L447.85 210.58 L448.32 213.58 L448.78 216.59 L449.25 219.6 L449.73 222.61 L450.2 225.62 L450.68 228.63 L451.16 231.63 L451.64 234.64 L452.13 237.65 L452.62 240.66 L453.11 243.67 L453.6 246.68 L454.1 249.68 L454.6 252.69 L455.1 255.7 L455.61 258.71 L456.11 261.72 L456.62 264.72 L457.14 267.73 L457.65 270.74 L458.17 273.75 L458.7 276.76 L459.22 279.77 L459.75 282.77 L460.28 285.78 L460.81 288.79 L461.35 291.8 L461.89 294.81 L462.44 297.82 L462.98 300.82 L463.53 303.83 L464.08 306.84 L464.64 309.85 L465.2 312.86 L465.76 315.86 L466.33 318.87 L466.9 321.88 L467.47 324.89 L468.05 327.9 L468.63 330.91 L469.21 333.91 L469.8 336.92 L470.39 339.93 L470.98 342.94 L471.58 345.95 L472.18 348.96 L472.78 351.96 L473.39 354.97 L474 357.98 L474.62 360.99 L475.24 364 L475.86 367 L476.49 370.01 L477.12 373.02 L477.75 376.03 L478.39 379.04 L479.03 382.05 L479.68 385.05 L480.33 388.06 L480.99 391.07 L481.65 394.08 L482.31 397.09 L482.98 400.1 L483.65 403.1 L484.33 406.11 L485.01 409.12 L485.69 412.13 L486.38 415.14 L487.07 418.14 L487.77 421.15 L488.48 424.16 L489.18 427.17 L489.9 430.18 L490.61 433.19 L491.34 436.19 L492.06 439.2 L492.79 442.21 L493.53 445.22 L494.27 448.23 L495.02 451.24 L495.77 454.24 L496.53 457.25 L497.29 460.26 L498.05 463.27 L498.83 466.28 L499.6 469.28 L500.39 472.29 L501.18 475.3 L501.97 478.31 L502.77 481.32 L503.57 484.33 L504.38 487.33 L505.2 490.34 L506.02 493.35 L506.85 496.36 L507.69 499.37 L508.53 502.38 L509.37 505.38 L510.22 508.39 L511.08 511.4 L511.95 514.41 L512.82 517.42 L513.69 520.42 L514.58 523.43 L515.47 526.44 L516.36 529.45 L517.27 532.46 L518.18 535.47 L519.1 538.47 L520.02 541.48 L520.95 544.49 L521.89 547.5 L522.83 550.51 L523.78 553.52 L524.74 556.52 L525.71 559.53 L526.69 562.54 L527.67 565.55 L528.66 568.56 L529.65 571.56 L530.66 574.57 L531.67 577.58 L532.69 580.59 L533.72 583.6 L534.76 586.61 L535.81 589.61 L536.86 592.62 L537.92 595.63 L538.99 598.64 L540.07 601.65 L541.16 604.66 L542.26 607.66 L543.37 610.67 L544.48 613.68 L545.61 616.69 L546.74 619.7 L547.89 622.71 L549.04 625.71 L550.2 628.72 L551.37 631.73 L552.56 634.74 L553.75 637.75 L554.95 640.75 L556.17 643.76 L557.39 646.77 L558.63 649.78 L559.87 652.79 L561.13 655.8 L562.4 658.8 L563.68 661.81 L564.97 664.82 L566.27 667.83 L567.58 670.84 L568.91 673.85 L570.24 676.85 L571.59 679.86 L572.96 682.87 L574.33 685.88 L575.72 688.89 L577.12 691.89 L578.53 694.9 L579.96 697.91 L581.39 700.92 L582.85 703.93 L584.31 706.94 L585.79 709.94 L587.29 712.95 L588.8 715.96 L590.32 718.97 L591.86 721.98 L593.41 724.99 L594.98 727.99 L596.57 731 L598.17 734.01 L599.78 737.02 L601.42 740.03 L603.06 743.03 L604.73 746.04 L606.41 749.05 L608.11 752.06 L609.83 755.07 L611.56 758.08 L613.31 761.08 L615.08 764.09 L616.87 767.1 L618.68 770.11 L620.51 773.12 L622.35 776.13 L624.22 779.13 L626.11 782.14 L628.01 785.15 L629.94 788.16 L631.89 791.17 L633.86 794.17 L635.85 797.18 L637.86 800.19 L639.9 803.2 L641.96 806.21 L644.04 809.22 L646.15 812.22 L648.28 815.23 L650.43 818.24 L652.61 821.25 L654.81 824.26 L657.04 827.27 L659.3 830.27 L661.58 833.28 L663.9 836.29 L666.23 839.3 L668.6 842.31 L670.99 845.31 L673.42 848.32 L675.87 851.33 L678.36 854.34 L680.87 857.35 L683.42 860.36 L686 863.36 L688.61 866.37 L691.25 869.38 L693.93 872.39 L696.64 875.4 L699.39 878.41 L702.18 881.41 L705 884.42 L707.85 887.43 L710.75 890.44 L713.69 893.45 L716.66 896.45 L719.67 899.46 L722.73 902.47 L725.83 905.48 L728.97 908.49 L732.16 911.5 L735.39 914.5 L738.66 917.51 L741.99 920.52 L745.36 923.53 L748.78 926.54 L752.24 929.55 L755.76 932.55 L759.34 935.56 L762.96 938.57 L766.64 941.58 L770.38 944.59 L774.17 947.59 L778.02 950.6 L781.93 953.61 L785.91 956.62 L789.94 959.63 L794.04 962.64 L798.2 965.64 L802.44 968.65 L806.74 971.66 L811.11 974.67 L815.55 977.68 L820.07 980.69 L824.66 983.69 L829.33 986.7 L834.08 989.71 L838.91 992.72 L843.83 995.73 L848.83 998.73 L853.92 1001.74 L859.1 1004.75 L864.38 1007.76 L869.75 1010.77 L875.22 1013.78 L880.79 1016.78 L886.46 1019.79 L892.24 1022.8 L898.14 1025.81 L904.14 1028.82 L910.26 1031.83 L916.5 1034.83 L922.87 1037.84 L929.36 1040.85 L935.99 1043.86 L942.74 1046.87 L949.64 1049.87 L956.68 1052.88 L963.87 1055.89 L971.22 1058.9 L978.72 1061.91 L986.38 1064.92 L994.21 1067.92 L1002.22 1070.93 L1010.4 1073.94 L1018.77 1076.95 L1027.34 1079.96 L1036.1 1082.97 L1045.07 1085.97 L1054.25 1088.98 L1063.65 1091.99 L1073.28 1095 L1083.15 1098.01 L1093.27 1101.01 L1103.64 1104.02 L1114.28 1107.03 L1125.2 1110.04 L1136.4 1113.05 L1147.9 1116.06 L1159.71 1119.06 L1171.84 1122.07 L1184.31 1125.08 L1197.13 1128.09 L1210.32 1131.1 L1223.89 1134.11 L1237.86 1137.11 L1252.24 1140.12 L1267.07 1143.13 L1282.34 1146.14 L1298.1 1149.15 L1314.35 1152.15 L1331.13 1155.16 L1348.45 1158.17 L1366.36 1161.18 L1384.87 1164.19 L1404.01 1167.2 L1423.83 1170.2 L1444.36 1173.21 L1465.63 1176.22 L1487.69 1179.23 L1510.58 1182.24 L1534.35 1185.25 L1559.05 1188.25 L1584.74 1191.26 L1611.47 1194.27 L1639.32 1197.28 L1668.35 1200.29 L1698.65 1203.29" fill="none" stroke="#000" stroke-width="11" stroke-linejoin="round" stroke-dasharray="15.4 26.8" stroke-linecap="round" stroke-dashoffset="0" shape-rendering="crispEdges"/></g>
<clipPath id="clip5"><rect x="207.4" y="1961" width="1751.6" height="1501.4"/></clipPath>
<g clip-path="url(#clip5)"><path transform="translate(227.4 2013) scale(1 1)" d="M224.98 0 L225.45 3.11 L225.93 6.22 L226.41 9.33 L226.89 12.44 L227.37 15.55 L227.86 18.66 L228.34 21.77 L228.83 24.89 L229.33 28 L229.82 31.11 L230.32 34.22 L230.81 37.33 L231.31 40.44 L231.82 43.55 L232.32 46.66 L232.83 49.77 L233.34 52.88 L233.85 55.99 L234.37 59.1 L234.88 62.21 L235.4 65.32 L235.92 68.43 L236.45 71.54 L236.97 74.66 L237.5 77.77 L238.03 80.88 L238.57 83.99 L239.1 87.1 L239.64 90.21 L240.18 93.32 L240.73 96.43 L241.27 99.54 L241.82 102.65 L242.37 105.76 L242.93 108.87 L243.48 111.98 L244.04 115.09 L244.61 118.2 L245.17 121.32 L245.74 124.43 L246.31 127.54 L246.88 130.65 L247.46 133.76 L248.03 136.87 L248.62 139.98 L249.2 143.09 L249.79 146.2 L250.38 149.31 L250.97 152.42 L251.57 155.53 L252.16 158.64 L252.77 161.75 L253.37 164.86 L253.98 167.97 L254.59 171.09 L255.2 174.2 L255.82 177.31 L256.44 180.42 L257.06 183.53 L257.69 186.64 L258.32 189.75 L258.95 192.86 L259.58 195.97 L260.22 199.08 L260.86 202.19 L261.51 205.3 L262.16 208.41 L262.81 211.52 L263.47 214.63 L264.12 217.75 L264.79 220.86 L265.45 223.97 L266.12 227.08 L266.79 230.19 L267.47 233.3 L268.15 236.41 L268.83 239.52 L269.52 242.63 L270.21 245.74 L270.9 248.85 L271.6 251.96 L272.3 255.07 L273.01 258.18 L273.72 261.29 L274.43 264.4 L275.15 267.52 L275.87 270.63 L276.59 273.74 L277.32 276.85 L278.05 279.96 L278.79 283.07 L279.53 286.18 L280.28 289.29 L281.02 292.4 L281.78 295.51 L282.53 298.62 L283.3 301.73 L284.06 304.84 L284.83 307.95 L285.6 311.06 L286.38 314.18 L287.17 317.29 L287.95 320.4 L288.74 323.51 L289.54 326.62 L290.34 329.73 L291.15 332.84 L291.96 335.95 L292.77 339.06 L293.59 342.17 L294.41 345.28 L295.24 348.39 L296.08 351.5 L296.91 354.61 L297.76 357.72 L298.61 360.84 L299.46 363.95 L300.32 367.06 L301.18 370.17 L302.05 373.28 L302.92 376.39 L303.8 379.5 L304.69 382.61 L305.58 385.72 L306.47 388.83 L307.37 391.94 L308.28 395.05 L309.19 398.16 L310.1 401.27 L311.03 404.38 L311.95 407.49 L312.89 410.61 L313.83 413.72 L314.77 416.83 L315.72 419.94 L316.68 423.05 L317.64 426.16 L318.61 429.27 L319.59 432.38 L320.57 435.49 L321.56 438.6 L322.55 441.71 L323.55 444.82 L324.56 447.93 L325.57 451.04 L326.59 454.15 L327.62 457.27 L328.65 460.38 L329.69 463.49 L330.74 466.6 L331.79 469.71 L332.85 472.82 L333.92 475.93 L334.99 479.04 L336.07 482.15 L337.16 485.26 L338.26 488.37 L339.36 491.48 L340.47 494.59 L341.59 497.7 L342.71 500.81 L343.85 503.92 L344.99 507.04 L346.14 510.15 L347.29 513.26 L348.46 516.37 L349.63 519.48 L350.81 522.59 L352 525.7 L353.2 528.81 L354.4 531.92 L355.62 535.03 L356.84 538.14 L358.07 541.25 L359.31 544.36 L360.56 547.47 L361.82 550.58 L363.08 553.7 L364.36 556.81 L365.64 559.92 L366.94 563.03 L368.24 566.14 L369.55 569.25 L370.88 572.36 L372.21 575.47 L373.55 578.58 L374.9 581.69 L376.27 584.8 L377.64 587.91 L379.02 591.02 L380.42 594.13 L381.82 597.24 L383.23 600.35 L384.66 603.47 L386.1 606.58 L387.54 609.69 L389 612.8 L390.47 615.91 L391.95 619.02 L393.44 622.13 L394.95 625.24 L396.46 628.35 L397.99 631.46 L399.53 634.57 L401.08 637.68 L402.65 640.79 L404.23 643.9 L405.82 647.01 L407.42 650.13 L409.03 653.24 L410.66 656.35 L412.3 659.46 L413.96 662.57 L415.63 665.68 L417.31 668.79 L419.01 671.9 L420.72 675.01 L422.45 678.12 L424.19 681.23 L425.94 684.34 L427.71 687.45 L429.49 690.56 L431.29 693.67 L433.11 696.78 L434.94 699.9 L436.79 703.01 L438.65 706.12 L440.53 709.23 L442.43 712.34 L444.34 715.45 L446.27 718.56 L448.21 721.67 L450.18 724.78 L452.16 727.89 L454.16 731 L456.18 734.11 L458.21 737.22 L460.27 740.33 L462.34 743.44 L464.43 746.56 L466.54 749.67 L468.68 752.78 L470.83 755.89 L473 759 L475.19 762.11 L477.4 765.22 L479.64 768.33 L481.89 771.44 L484.17 774.55 L486.47 777.66 L488.79 780.77 L491.14 783.88 L493.5 786.99 L495.89 790.1 L498.31 793.21 L500.75 796.33 L503.21 799.44 L505.7 802.55 L508.21 805.66 L510.75 808.77 L513.31 811.88 L515.9 814.99 L518.52 818.1 L521.16 821.21 L523.83 824.32 L526.53 827.43 L529.26 830.54 L532.02 833.65 L534.81 836.76 L537.62 839.87 L540.47 842.99 L543.35 846.1 L546.26 849.21 L549.2 852.32 L552.17 855.43 L555.18 858.54 L558.21 861.65 L561.29 864.76 L564.4 867.87 L567.54 870.98 L570.72 874.09 L573.93 877.2 L577.18 880.31 L580.47 883.42 L583.8 886.53 L587.17 889.64 L590.58 892.76 L594.02 895.87 L597.51 898.98 L601.04 902.09 L604.61 905.2 L608.23 908.31 L611.89 911.42 L615.6 914.53 L619.35 917.64 L623.14 920.75 L626.99 923.86 L630.88 926.97 L634.82 930.08 L638.82 933.19 L642.86 936.3 L646.96 939.42 L651.11 942.53 L655.31 945.64 L659.57 948.75 L663.89 951.86 L668.26 954.97 L672.69 958.08 L677.19 961.19 L681.74 964.3 L686.35 967.41 L691.03 970.52 L695.78 973.63 L700.59 976.74 L705.47 979.85 L710.42 982.96 L715.44 986.08 L720.53 989.19 L725.69 992.3 L730.93 995.41 L736.25 998.52 L741.65 1001.63 L747.13 1004.74 L752.69 1007.85 L758.33 1010.96 L764.06 1014.07 L769.88 1017.18 L775.79 1020.29 L781.79 1023.4 L787.89 1026.51 L794.08 1029.62 L800.37 1032.73 L806.77 1035.85 L813.27 1038.96 L819.87 1042.07 L826.59 1045.18 L833.41 1048.29 L840.35 1051.4 L847.41 1054.51 L854.59 1057.62 L861.9 1060.73 L869.33 1063.84 L876.89 1066.95 L884.59 1070.06 L892.42 1073.17 L900.39 1076.28 L908.51 1079.39 L916.78 1082.51 L925.21 1085.62 L933.79 1088.73 L942.53 1091.84 L951.44 1094.95 L960.52 1098.06 L969.78 1101.17 L979.22 1104.28 L988.85 1107.39 L998.66 1110.5 L1008.68 1113.61 L1018.91 1116.72 L1029.34 1119.83 L1039.99 1122.94 L1050.87 1126.05 L1061.98 1129.16 L1073.33 1132.28 L1084.92 1135.39 L1096.77 1138.5 L1108.89 1141.61 L1121.28 1144.72 L1133.95 1147.83 L1146.91 1150.94 L1160.17 1154.05 L1173.75 1157.16 L1187.65 1160.27 L1201.88 1163.38 L1216.47 1166.49 L1231.41 1169.6 L1246.73 1172.71 L1262.44 1175.82 L1278.55 1178.94 L1295.08 1182.05 L1312.05 1185.16 L1329.47 1188.27 L1347.36 1191.38 L1365.75 1194.49 L1384.64 1197.6 L1404.07 1200.71 L1424.06 1203.82 L1444.63 1206.93 L1465.8 1210.04 L1487.61 1213.15 L1510.08 1216.26 L1533.24 1219.37 L1557.13 1222.48 L1581.78 1225.59 L1607.23 1228.71 L1633.52 1231.82 L1660.68 1234.93 L1688.77 1238.04 L1717.82 1241.15 L1747.91 1244.26" fill="none" stroke="#ff0000" stroke-width="11.5" stroke-linejoin="round" shape-rendering="crispEdges"/></g>
<clipPath id="clip6"><rect x="100" y="1984" width="1925" height="1516"/></clipPath>
<g fill="#fff" stroke-width="9" stroke-linejoin="round" shape-rendering="crispEdges" clip-path="url(#clip6)">
<rect x="421.18" y="1991.65" width="41.1" height="42.7" rx="3.2" fill="#000" stroke="none"/><rect x="430.18" y="2000.75" width="23.1" height="24.5" fill="#fff" stroke="none"/>
<ellipse cx="422.78" cy="2013" rx="23.6" ry="24" fill="#000" stroke="none"/><ellipse cx="422.78" cy="2013" rx="14.6" ry="14.5" fill="#fff" stroke="none"/>
<path d="M490.45 1985.8 L513.45 2026.9 L467.45 2026.9 Z" stroke="#000"/>
<rect x="442.99" y="1991.65" width="41.1" height="42.7" rx="3.2" fill="#0000ff" stroke="none"/><rect x="451.99" y="2000.75" width="23.1" height="24.5" fill="#fff" stroke="none"/>
<ellipse cx="465.36" cy="2013" rx="23.6" ry="24" fill="#0000ff" stroke="none"/><ellipse cx="465.36" cy="2013" rx="14.6" ry="14.5" fill="#fff" stroke="none"/>
<path d="M462.5 1985.8 L485.5 2026.9 L439.5 2026.9 Z" stroke="#0000ff"/>
<path d="M480.59 2040.8 L503.59 1998.6 L457.59 1998.6 Z" stroke="#0000ff"/>
<ellipse cx="469.42" cy="2297.2" rx="23.6" ry="24" fill="#000" stroke="none"/><ellipse cx="469.42" cy="2297.2" rx="14.6" ry="14.5" fill="#fff" stroke="none"/>
<path d="M443.64 2270 L466.64 2311.1 L420.64 2311.1 Z" stroke="#000"/>
<rect x="513.17" y="2275.85" width="41.1" height="42.7" rx="3.2" fill="#0000ff" stroke="none"/><rect x="522.17" y="2284.95" width="23.1" height="24.5" fill="#fff" stroke="none"/>
<ellipse cx="533.98" cy="2297.2" rx="23.6" ry="24" fill="#0000ff" stroke="none"/><ellipse cx="533.98" cy="2297.2" rx="14.6" ry="14.5" fill="#fff" stroke="none"/>
<path d="M499.97 2270 L522.97 2311.1 L476.97 2311.1 Z" stroke="#0000ff"/>
<path d="M512.52 2325 L535.52 2282.8 L489.52 2282.8 Z" stroke="#0000ff"/>
<ellipse cx="621.98" cy="2581.4" rx="23.6" ry="24" fill="#0000ff" stroke="none"/><ellipse cx="621.98" cy="2581.4" rx="14.6" ry="14.5" fill="#fff" stroke="none"/>
<path d="M606.14 2554.2 L629.14 2595.3 L583.14 2595.3 Z" stroke="#0000ff"/>
<path d="M635.56 2609.2 L658.56 2567 L612.56 2567 Z" stroke="#0000ff"/>
<rect x="659.14" y="2844.25" width="41.1" height="42.7" rx="3.2" fill="#000" stroke="none"/><rect x="668.14" y="2853.35" width="23.1" height="24.5" fill="#fff" stroke="none"/>
<ellipse cx="686.01" cy="2865.6" rx="23.6" ry="24" fill="#000" stroke="none"/><ellipse cx="686.01" cy="2865.6" rx="14.6" ry="14.5" fill="#fff" stroke="none"/>
<path d="M692.93 2838.4 L715.93 2879.5 L669.93 2879.5 Z" stroke="#000"/>
<rect x="933.7" y="2844.25" width="41.1" height="42.7" rx="3.2" fill="#0000ff" stroke="none"/><rect x="942.7" y="2853.35" width="23.1" height="24.5" fill="#fff" stroke="none"/>
<ellipse cx="954.25" cy="2865.6" rx="23.6" ry="24" fill="#0000ff" stroke="none"/><ellipse cx="954.25" cy="2865.6" rx="14.6" ry="14.5" fill="#fff" stroke="none"/>
<path d="M794.43 2838.4 L817.43 2879.5 L771.43 2879.5 Z" stroke="#0000ff"/>
<path d="M785.26 2893.4 L808.26 2851.2 L762.26 2851.2 Z" stroke="#0000ff"/>
<rect x="1464.82" y="3128.45" width="41.1" height="42.7" rx="3.2" fill="#0000ff" stroke="none"/><rect x="1473.82" y="3137.55" width="23.1" height="24.5" fill="#fff" stroke="none"/>
<ellipse cx="1485.37" cy="3149.8" rx="23.6" ry="24" fill="#0000ff" stroke="none"/><ellipse cx="1485.37" cy="3149.8" rx="14.6" ry="14.5" fill="#fff" stroke="none"/>
<path d="M1391.66 3122.6 L1414.66 3163.7 L1368.66 3163.7 Z" stroke="#0000ff"/>
<path d="M1444.18 3177.6 L1467.18 3135.4 L1421.18 3135.4 Z" stroke="#0000ff"/>
</g>
<text transform="translate(1544.8 2118.9) scale(1.0041 1.05)" font-family='"Liberation Serif", "DejaVu Serif", serif' font-size="52.5" fill="#000" xml:space="preserve" >T201, <tspan font-style="italic">V</tspan><tspan font-size="35.18" dy="13.12">t</tspan><tspan dy="-13.12"> = 1.32%</tspan></text>
<text transform="translate(1544.8 2198) scale(1.0041 1.05)" font-family='"Liberation Serif", "DejaVu Serif", serif' font-size="52.5" fill="#000" xml:space="preserve" >T201, <tspan font-style="italic">V</tspan><tspan font-size="35.18" dy="13.12">t</tspan><tspan dy="-13.12"> = 1.97%</tspan></text>
<text transform="translate(1544.8 2277.1) scale(1.0041 1.05)" font-family='"Liberation Serif", "DejaVu Serif", serif' font-size="52.5" fill="#000" xml:space="preserve" >T201, <tspan font-style="italic">V</tspan><tspan font-size="35.18" dy="13.12">t</tspan><tspan dy="-13.12"> = 3.29%</tspan></text>
<text transform="translate(1544.8 2356.2) scale(1.0041 1.05)" font-family='"Liberation Serif", "DejaVu Serif", serif' font-size="52.5" fill="#000" xml:space="preserve" >T202, <tspan font-style="italic">V</tspan><tspan font-size="35.18" dy="13.12">t</tspan><tspan dy="-13.12"> = 1.32%</tspan></text>
<text transform="translate(1544.8 2435.3) scale(1.0041 1.05)" font-family='"Liberation Serif", "DejaVu Serif", serif' font-size="52.5" fill="#000" xml:space="preserve" >T202, <tspan font-style="italic">V</tspan><tspan font-size="35.18" dy="13.12">t</tspan><tspan dy="-13.12"> = 1.97%</tspan></text>
<text transform="translate(1544.8 2514.4) scale(1.0041 1.05)" font-family='"Liberation Serif", "DejaVu Serif", serif' font-size="52.5" fill="#000" xml:space="preserve" >T202, <tspan font-style="italic">V</tspan><tspan font-size="35.18" dy="13.12">t</tspan><tspan dy="-13.12"> = 3.29%</tspan></text>
<text transform="translate(1544.8 2593.5) scale(1.0041 1.05)" font-family='"Liberation Serif", "DejaVu Serif", serif' font-size="52.5" fill="#000" xml:space="preserve" >T202, <tspan font-style="italic">V</tspan><tspan font-size="35.18" dy="13.12">t</tspan><tspan dy="-13.12"> = 5.26%</tspan></text>
<g fill="#fff" stroke-width="9" stroke-linejoin="round" shape-rendering="crispEdges">
<rect x="1450.5" y="2080" width="41" height="41.8" rx="3.2" fill="#000" stroke="none"/><rect x="1459.45" y="2088.85" width="23.1" height="24.1" fill="#fff" stroke="none"/>
<ellipse cx="1471" cy="2180" rx="23.05" ry="23.6" fill="#000" stroke="none"/><ellipse cx="1471" cy="2180" rx="14.1" ry="14.6" fill="#fff" stroke="none"/>
<path d="M1471 2232.3 L1494.05 2273.5 L1447.95 2273.5 Z" stroke="#000"/>
<rect x="1450.5" y="2317.3" width="41" height="41.8" rx="3.2" fill="#0000ff" stroke="none"/><rect x="1459.45" y="2326.15" width="23.1" height="24.1" fill="#fff" stroke="none"/>
<ellipse cx="1471" cy="2417.3" rx="23.05" ry="23.6" fill="#0000ff" stroke="none"/><ellipse cx="1471" cy="2417.3" rx="14.1" ry="14.6" fill="#fff" stroke="none"/>
<path d="M1471 2469.6 L1494.05 2510.8 L1447.95 2510.8 Z" stroke="#0000ff"/>
<path d="M1471 2603.6 L1494.05 2562.3 L1447.95 2562.3 Z" stroke="#0000ff"/>
</g>
<g shape-rendering="crispEdges"><line x1="788.6" y1="2641.3" x2="896.15" y2="2475.93" stroke="#000" stroke-width="3"/>
<polygon points="913.6,2449.1 903.03,2482.78 887.1,2472.42" fill="#000"/></g>
<g shape-rendering="crispEdges"><line x1="860.6" y1="2948.6" x2="732.5" y2="3135.31" stroke="#000" stroke-width="3"/>
<polygon points="714.4,3161.7 725.8,3128.29 741.47,3139.04" fill="#000"/></g>
<text transform="translate(734.98 2330) scale(1.0236 1.05)" font-family='"Liberation Serif", "DejaVu Serif", serif' font-size="41.3" fill="#000" xml:space="preserve" >for cohesive soils by Mair et. al (1993)</text>
<text transform="translate(757 2400) scale(1.0565 1.05)" font-family='"Liberation Serif", "DejaVu Serif", serif' font-size="32.8" fill="#000" xml:space="preserve" ><tspan font-style="italic">K</tspan></text>
<text transform="translate(788.74 2400) scale(1.28 1.05)" font-family='"Liberation Serif", "DejaVu Serif", serif' font-size="32.8" fill="#000" xml:space="preserve" >=</text>
<text transform="translate(819.47 2378.8) scale(1.0321 1.05)" font-family='"Liberation Serif", "DejaVu Serif", serif' font-size="32.8" fill="#000" xml:space="preserve" >0.5 - 0.325</text>
<text transform="translate(978.16 2378.8) scale(1.14 1.05)" font-family='"Liberation Serif", "DejaVu Serif", serif' font-size="32.8" fill="#000" xml:space="preserve" >(<tspan font-style="italic">z</tspan> / <tspan font-style="italic">z</tspan><tspan font-size="19.68" dy="6.56">0</tspan><tspan dy="-6.56">)</tspan></text>
<text transform="translate(891.57 2426.3) scale(0.9782 1.05)" font-family='"Liberation Serif", "DejaVu Serif", serif' font-size="32.8" fill="#000" xml:space="preserve" >1 - <tspan font-style="italic">z</tspan> / <tspan font-style="italic">z</tspan><tspan font-size="19.68" dy="6.56">0</tspan></text>
<rect x="817" y="2390" width="257" height="3" fill="#000" shape-rendering="crispEdges"/>
<text transform="translate(506.7 3227.5) scale(1.0346 1.05)" font-family='"Liberation Serif", "DejaVu Serif", serif' font-size="36.4" fill="#000" xml:space="preserve" ><tspan font-style="italic">K</tspan></text>
<text transform="translate(542.24 3227.5) scale(1.2294 1.05)" font-family='"Liberation Serif", "DejaVu Serif", serif' font-size="36.4" fill="#000" xml:space="preserve" >=</text>
<text transform="translate(576.47 3203.9) scale(1.0303 1.05)" font-family='"Liberation Serif", "DejaVu Serif", serif' font-size="36.4" fill="#000" xml:space="preserve" >0.27 - 0.01</text>
<text transform="translate(753.45 3203.9) scale(1.1773 1.05)" font-family='"Liberation Serif", "DejaVu Serif", serif' font-size="36.4" fill="#000" xml:space="preserve" >(<tspan font-style="italic">z</tspan> / <tspan font-style="italic">z</tspan><tspan font-size="21.84" dy="7.28">0</tspan><tspan dy="-7.28">)</tspan></text>
<text transform="translate(657.81 3257.2) scale(0.9973 1.05)" font-family='"Liberation Serif", "DejaVu Serif", serif' font-size="36.4" fill="#000" xml:space="preserve" >1 - <tspan font-style="italic">z</tspan> / <tspan font-style="italic">z</tspan><tspan font-size="21.84" dy="7.28">0</tspan></text>
<rect x="574" y="3217" width="288" height="3" fill="#000" shape-rendering="crispEdges"/>
<text transform="translate(492.87 3327.9) scale(1.0284 1.05)" font-family='"Liberation Serif", "DejaVu Serif", serif' font-size="41.3" fill="#000" xml:space="preserve" >for sands in  Group T2 of this paper (<tspan font-style="italic">N</tspan>=28, <tspan font-style="italic">R</tspan><tspan font-size="27" dy="-15">2</tspan><tspan dy="15"> = 0.97)</tspan></text>
<text x="1002.7" y="3588" text-anchor="middle" font-family='"Liberation Serif", "DejaVu Serif", serif' font-size="87" fill="#000">(<tspan font-weight="bold">b</tspan>)</text>
</svg>
</body>
</html>
